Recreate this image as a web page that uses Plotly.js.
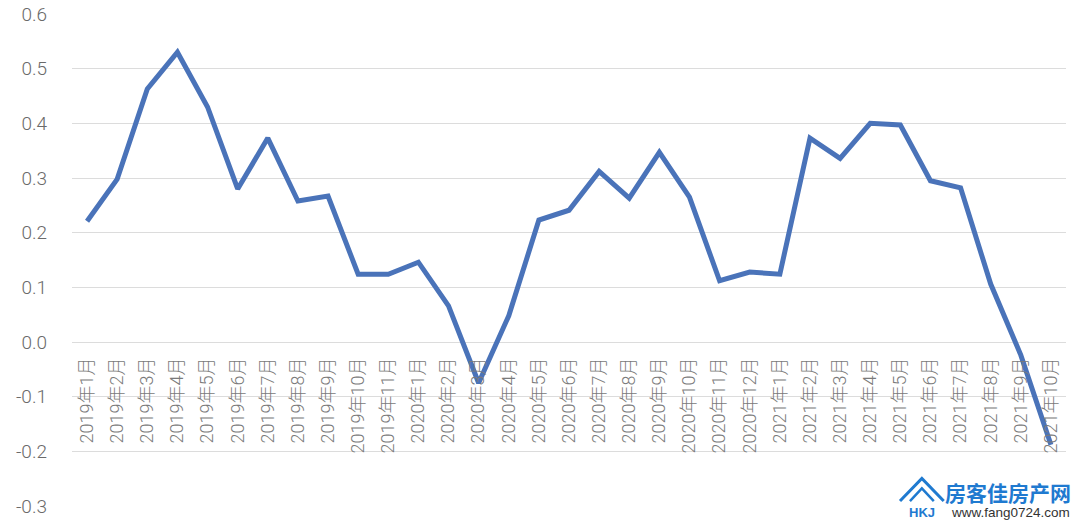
<!DOCTYPE html>
<html>
<head>
<meta charset="utf-8">
<script src="https://cdn.plot.ly/plotly-3.0.1.min.js"></script>
<style>html,body{margin:0;padding:0;background:#fff;}#chart{width:1080px;height:525px;}</style>
</head>
<body>
<div id="chart"></div>
<script>
const months = [
  "2019年1月","2019年2月","2019年3月","2019年4月","2019年5月","2019年6月","2019年7月","2019年8月","2019年9月","2019年10月","2019年11月",
  "2020年1月","2020年2月","2020年3月","2020年4月","2020年5月","2020年6月","2020年7月","2020年8月","2020年9月","2020年10月","2020年11月","2020年12月",
  "2021年1月","2021年2月","2021年3月","2021年4月","2021年5月","2021年6月","2021年7月","2021年8月","2021年9月","2021年10月"
];
const values = [
  0.221, 0.298, 0.463, 0.530, 0.430, 0.280, 0.373, 0.258, 0.267, 0.124, 0.124,
  0.146, 0.066, -0.075, 0.048, 0.223, 0.241, 0.312, 0.263, 0.347, 0.265, 0.112, 0.128,
  0.124, 0.373, 0.336, 0.400, 0.397, 0.295, 0.282, 0.106, -0.024, -0.188
];
const yTickVals = [0.6, 0.5, 0.4, 0.3, 0.2, 0.1, 0.0, -0.1, -0.2, -0.3];
const yTickText = ["0.6","0.5","0.4","0.3","0.2","0.1","0.0","-0.1","-0.2","-0.3"];

const fontFam = "Roboto, 'Noto Sans CJK SC', sans-serif";
const trace = {
  x: months, y: values, type: 'scatter', mode: 'lines',
  line: {color: '#4a73b9', width: 5, shape: 'linear'},
  hoverinfo: 'x+y'
};
const logoBlue = '#1f7ad0';
const layout = {
  width: 1080, height: 525,
  margin: {l: 72, r: 14, t: 14, b: 19},
  paper_bgcolor: '#ffffff', plot_bgcolor: '#ffffff',
  showlegend: false,
  xaxis: {
    type: 'category', range: [-0.5, months.length - 0.5],
    anchor: 'free', position: 1/3,
    showgrid: false, zeroline: false, showline: false, ticks: '',
    tickangle: -90, ticklabelstandoff: 11,
    tickfont: {family: fontFam, size: 18, color: '#7a7a7a', weight: 300},
    automargin: false, fixedrange: true
  },
  yaxis: {
    range: [-0.3, 0.6],
    tickvals: yTickVals, ticktext: yTickText,
    showgrid: true, gridcolor: '#dcdcdc', gridwidth: 1,
    zeroline: false, showline: false, ticks: '',
    ticklabelstandoff: 24,
    tickfont: {family: fontFam, size: 19, color: '#6a6a6a', weight: 300},
    automargin: false, fixedrange: true
  },
  shapes: [
    {type: 'path', xref: 'paper', yref: 'paper',
     path: 'M 0.833 0.010 L 0.855 0.056 L 0.877 0.010',
     line: {color: logoBlue, width: 3}},
    {type: 'path', xref: 'paper', yref: 'paper',
     path: 'M 0.843 0.010 L 0.855 0.036 L 0.867 0.010',
     line: {color: logoBlue, width: 2.5}}
  ],
  annotations: [
    {xref: 'paper', yref: 'paper', x: 0.9416, y: 0.0285, xanchor: 'center', yanchor: 'middle',
     text: '<b>房客佳房产网</b>', showarrow: false,
     font: {family: "'Noto Sans CJK SC', sans-serif", size: 21, color: logoBlue}},
    {xref: 'paper', yref: 'paper', x: 0.9437, y: -0.0122, xanchor: 'center', yanchor: 'middle',
     text: 'www.fang0724.com', showarrow: false,
     font: {family: "'Liberation Sans', Arial, sans-serif", size: 13.5, color: '#333333'}},
    {xref: 'paper', yref: 'paper', x: 0.855, y: -0.014, xanchor: 'center', yanchor: 'middle',
     text: '<b>HKJ</b>', showarrow: false,
     font: {family: "'Liberation Sans', Arial, sans-serif", size: 13, color: logoBlue}}
  ]
};
Plotly.newPlot('chart', [trace], layout, {staticPlot: true, displayModeBar: false});
</script>
</body>
</html>
